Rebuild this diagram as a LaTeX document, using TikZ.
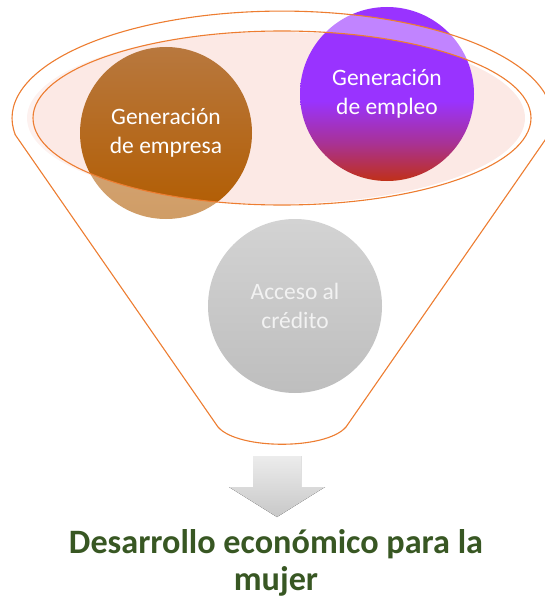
\documentclass[tikz,border=0pt]{standalone}
\usepackage{fontspec}
\setmainfont{Carlito}
\definecolor{funnelorange}{RGB}{237,125,49}
\definecolor{ringpink}{RGB}{252,233,229}
\definecolor{empresatop}{RGB}{184,120,62}
\definecolor{empresabot}{RGB}{178,92,0}
\definecolor{empleopurple}{RGB}{153,51,255}
\definecolor{empleomid}{RGB}{168,50,150}
\definecolor{empleored}{RGB}{192,48,24}
\definecolor{creditotop}{RGB}{211,211,211}
\definecolor{creditobot}{RGB}{190,190,190}
\definecolor{arrowtop}{RGB}{236,236,236}
\definecolor{arrowbot}{RGB}{200,200,200}
\definecolor{titlegreen}{RGB}{56,87,35}
\pgfdeclareverticalshading{empleofade}{100bp}{color(0bp)=(empleored); color(25bp)=(empleored); color(36bp)=(empleomid); color(48bp)=(empleopurple); color(100bp)=(empleopurple)}

\begin{document}
\begin{tikzpicture}[x=1pt,y=-1pt,
    funnelline/.style={draw=funnelorange, line width=1.1pt},
    bubble/.style={circle, inner sep=0pt, align=center, text=white,
        font=\fontsize{23.5}{28.5}\selectfont},
    titletext/.style={align=center, text=titlegreen,
        font=\fontsize{34.2}{37}\selectfont\bfseries}]
			%%Location
			\useasboundingbox (0,0) rectangle (545,599);
			%%Ring
			\fill[ringpink] (276,118) ellipse [x radius=249, y radius=86];
			%%Bubbles in the ring
			\node[bubble, minimum size=172pt, top color=empresatop, bottom color=empresabot] (empresa) at (166,133) {Generación\\de empresa};
			\node[bubble, minimum size=174pt, shading=empleofade] (empleo) at (387,94) {Generación\\de empleo};
			%%Funnel body
			\fill[white, opacity=0.4, even odd rule] (15.4,135) -- (218,427) .. controls (238,450) and (326,450) .. (346,427) -- (548.6,135)
			    arc[start angle=9.1, end angle=-189.1, x radius=270, y radius=107] -- cycle
			    (282,118) ellipse [x radius=249, y radius=87];
			\node[bubble, minimum size=174pt, top color=creditotop, bottom color=creditobot, text=white!95!black] (credito) at (295,306) {Acceso al\\crédito};
			\draw[funnelline] (15.4,135) -- (218,427) .. controls (238,450) and (326,450) .. (346,427) -- (548.6,135)
			    arc[start angle=9.1, end angle=-189.1, x radius=270, y radius=107] -- cycle;
			\draw[funnelline] (282,118) ellipse [x radius=249, y radius=87];
			%%Arrow
			\fill[top color=arrowtop, bottom color=arrowbot] (253,456) -- (301,456) -- (301,487) -- (325,487) -- (277,517) -- (229,487) -- (253,487) -- cycle;
			%%Label
			\node[titletext, anchor=base] (titulo) at (276,590) {Desarrollo económico para la\\mujer};
\end{tikzpicture}
\end{document}
